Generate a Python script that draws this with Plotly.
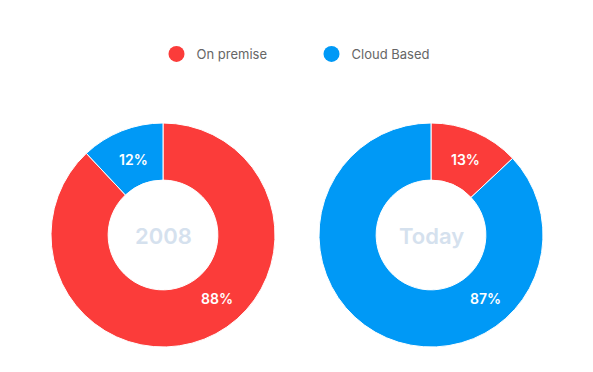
import plotly.graph_objects as go

categories = ["On premise", "Cloud Based"]
colors = ["#FB3C3A", "#0099F6"]
values_2008 = [88, 12]
values_today = [13, 87]
center_labels = ["2008", "Today"]

W, H = 593, 372
FONT = "Inter"

def px(x):
    return x / W

def py(y):
    return 1 - y / H

fig = go.Figure()

common = dict(
    labels=categories,
    marker=dict(colors=colors, line=dict(color="white", width=1)),
    hole=0.49,
    sort=False,
    direction="clockwise",
    rotation=0,
    textinfo="none",
    hoverinfo="label+percent",
    showlegend=False,
)

fig.add_trace(go.Pie(values=values_2008, domain=dict(x=[px(51), px(275)], y=[py(347), py(123)]), **common))
fig.add_trace(go.Pie(values=values_today, domain=dict(x=[px(319), px(543)], y=[py(347), py(123)]), **common))

# legend entries with circle symbols
for cat, col in zip(categories, colors):
    fig.add_trace(go.Scatter(x=[None], y=[None], mode="markers", name=cat,
                             marker=dict(color=col, size=17, symbol="circle"),
                             showlegend=True))

annotations = []
# centre titles
for label, cx in zip(center_labels, [163, 431]):
    annotations.append(dict(x=px(cx), y=py(236), xref="paper", yref="paper", text=label,
                            xanchor="center", yanchor="middle",
                            showarrow=False, font=dict(family=FONT, size=22, color="#D5E1EE", weight=600)))

# slice value labels
label_pos = [
    (values_2008[1], 133, 159), (values_2008[0], 217, 298),
    (values_today[0], 465, 159), (values_today[1], 486, 298),
]
for v, x, y in label_pos:
    annotations.append(dict(x=px(x), y=py(y), xref="paper", yref="paper", text=f"{v}%",
                            xanchor="center", yanchor="middle",
                            showarrow=False, font=dict(family=FONT, size=14, color="white", weight=600)))

fig.update_layout(
    width=W, height=H,
    margin=dict(l=0, r=0, t=0, b=0),
    paper_bgcolor="white", plot_bgcolor="white",
    xaxis=dict(visible=False), yaxis=dict(visible=False),
    legend=dict(orientation="h", x=0.5 + 15 / W, xanchor="center", y=py(54), yanchor="middle",
                font=dict(family=FONT, size=13, color="#666666"), itemsizing="trace",
                entrywidth=110, entrywidthmode="pixels",
                itemclick=False, itemdoubleclick=False),
    annotations=annotations,
)

fig.write_html("out.html", config={"displayModeBar": False},
               post_script="document.body.style.margin='0';")
